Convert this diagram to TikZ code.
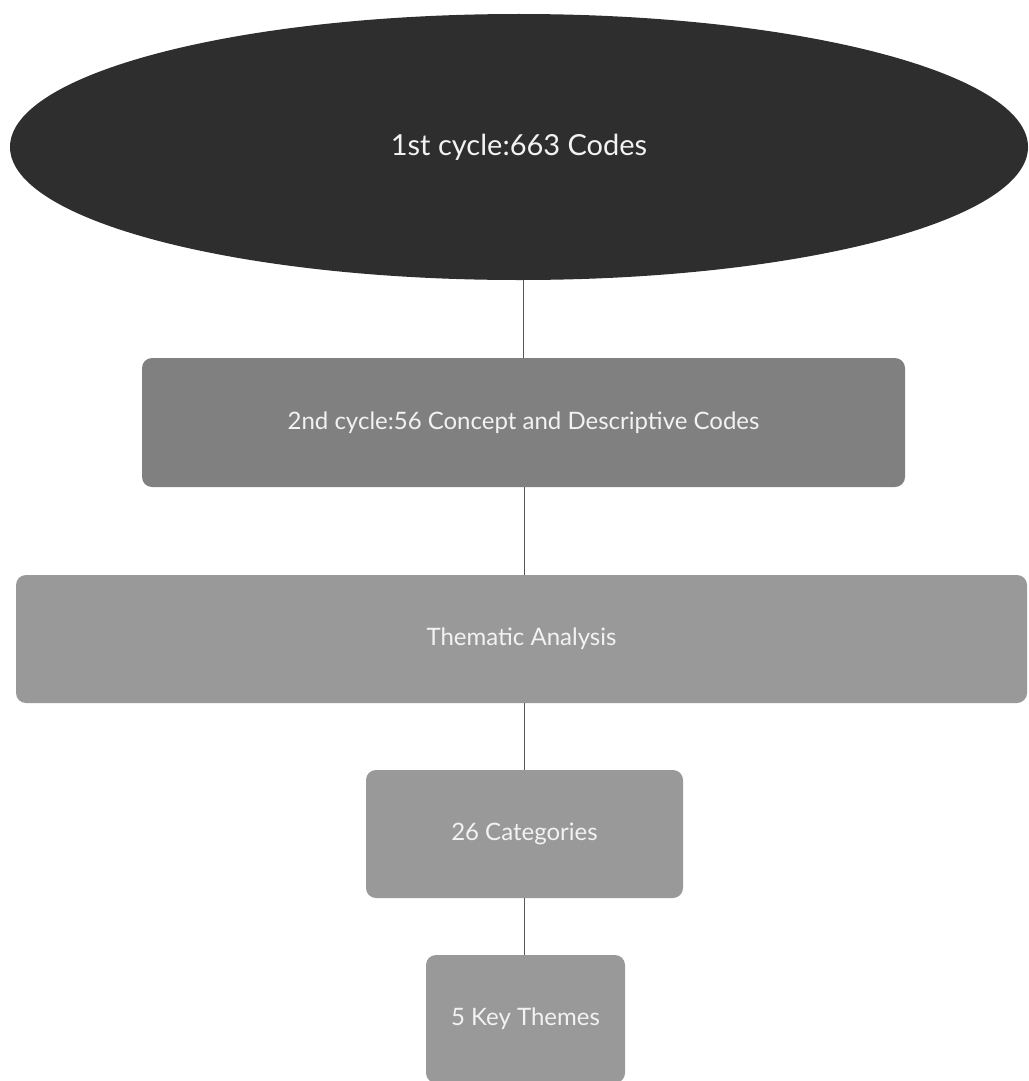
\documentclass[tikz,border=0pt]{standalone}
\usepackage{fontspec}
\setmainfont{Lato}
\usetikzlibrary{shapes.geometric}
\definecolor{ovaldark}{HTML}{2E2E2E}
\definecolor{boxmid}{HTML}{808080}
\definecolor{boxlight}{HTML}{999999}
\definecolor{linkgray}{HTML}{555555}
\definecolor{labelwhite}{HTML}{F2F2F2}
\tikzset{
  stage/.style={rectangle, rounded corners=10pt, inner sep=0pt, text=labelwhite,
    font=\fontsize{24}{28}\selectfont},
  link/.style={draw=linkgray, line width=1.3pt}
}
\begin{document}
\begin{tikzpicture}[x=1pt, y=-1pt]
  \useasboundingbox (0,0) rectangle (1028,1081);
  % top oval
  \node[ellipse, fill=ovaldark, minimum width=1018pt, minimum height=266pt, inner sep=0pt,
        text=labelwhite, font=\fontsize{29}{33}\selectfont] (c1) at (519,147) {1st cycle:663 Codes};
  % stage boxes
  \node[stage, fill=boxmid, minimum width=763pt, minimum height=129pt] (c2) at (523.5,422.5)
    {2nd cycle:56 Concept and Descriptive Codes};
  \node[stage, fill=boxlight, minimum width=1011pt, minimum height=128pt] (ta) at (521.5,639)
    {Thematic Analysis};
  \node[stage, fill=boxlight, minimum width=317pt, minimum height=128pt] (cat) at (524.5,834)
    {26 Categories};
  \node[stage, fill=boxlight, minimum width=199pt, minimum height=128pt] (kt) at (525.5,1019)
    {5 Key Themes};
  % connectors
  \draw[link] (c1.south -| c2.north) -- (c2.north);
  \draw[link] (c2.south -| cat.north) -- (ta.north -| cat.north);
  \draw[link] (ta.south -| cat.north) -- (cat.north);
  \draw[link] (cat.south) -- (kt.north -| cat.south);
\end{tikzpicture}
\end{document}
